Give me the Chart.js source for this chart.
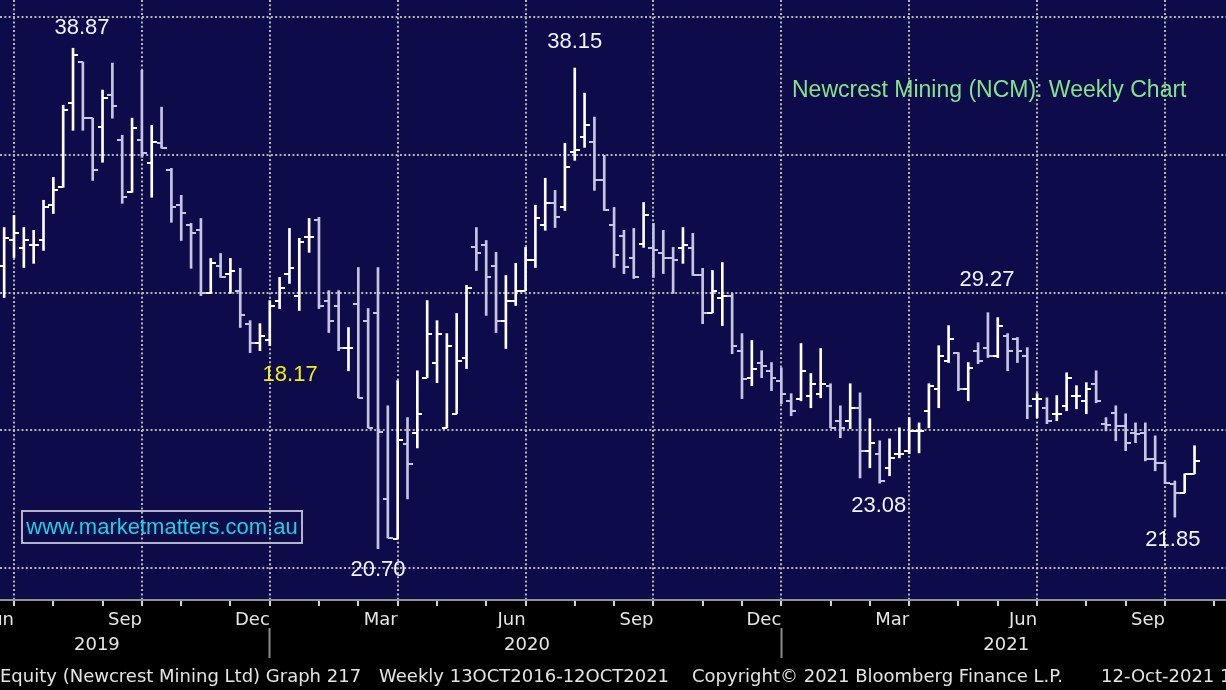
<!DOCTYPE html>
<html>
<head>
<meta charset="utf-8">
<title>Newcrest Mining (NCM) Weekly</title>
<script src="https://cdn.jsdelivr.net/npm/chart.js@4.4.0/dist/chart.umd.min.js"></script>
<style>
    html, body { margin: 0; padding: 0; background: #000; overflow: hidden; }
    #wrap { position: relative; width: 1226px; height: 690px; background: #000; }
    #wrap canvas { position: absolute; left: 0; top: 0; }
    .chartTitle { position: absolute; left: 792px; top: 76px; font: 23px "Liberation Sans", Arial, sans-serif; color: #84e48a; white-space: nowrap; }
    .site { position: absolute; left: 21px; top: 510px; width: 278px; height: 30px; border: 2px solid #b4b4c4;
            font: 22px "Liberation Sans", Arial, sans-serif; color: #1ed0e2; line-height: 30px; text-align: center; white-space: nowrap; }
    .foot { position: absolute; top: 666px; font: 18px "DejaVu Sans", sans-serif; color: #e4e4e4; white-space: nowrap; line-height: 20px; }
</style>
</head>
<body>
<div id="wrap">
    <canvas id="c" width="1226" height="690"></canvas>
    <div class="chartTitle">Newcrest Mining (NCM): Weekly Chart</div>
    <div class="site">www.marketmatters.com.au</div>
    <div class="foot" style="left:0px">Equity (Newcrest Mining Ltd) Graph 217</div>
    <div class="foot" style="left:379px">Weekly 13OCT2016-12OCT2021</div>
    <div class="foot" style="left:692px">Copyright© 2021 Bloomberg Finance L.P.</div>
    <div class="foot" style="left:1101px">12-Oct-2021 12:52:07</div>
</div>
<script>
// weekly bars, first one is the week ending Fri 28 Jun 2019
const firstWeek = '2019-06-28';

const highs = [
    32.36, 32.80, 32.36, 32.26, 33.35, 34.18, 36.80, 38.87, 38.37, 36.33,
    37.35, 38.33, 35.71, 36.33, 38.07, 36.07, 36.73, 34.51, 33.53, 32.51,
    32.69, 31.24, 31.42, 31.24, 30.88, 28.98, 28.87, 29.71, 30.55, 32.33,
    31.97, 32.69, 32.73, 30.07, 30.07, 28.73, 30.91, 29.42, 30.91, 25.89,
    26.80, 25.46, 27.16, 29.71, 28.98, 28.51, 29.24, 30.26, 32.36, 31.89,
    31.46, 30.62, 31.06, 31.64, 33.17, 34.15, 33.71, 35.42, 38.15, 37.24,
    36.37, 34.98, 33.09, 32.26, 32.33, 33.27, 32.51, 32.26, 31.64, 32.36,
    32.15, 30.88, 30.80, 31.09, 29.97, 28.51, 28.26, 27.89, 27.46, 27.27,
    26.33, 28.15, 27.06, 27.97, 26.69, 25.89, 26.69, 26.36, 25.42, 24.62,
    24.69, 25.09, 25.46, 25.27, 26.69, 28.07, 28.80, 27.82, 27.46, 28.18,
    29.27, 29.09, 28.51, 28.37, 28.00, 26.33, 26.18, 26.26, 27.09, 26.62,
    26.73, 27.16, 25.46, 25.89, 25.60, 25.27, 25.27, 24.80, 23.82, 23.16,
    23.42, 24.44
];
const lows = [
    29.82, 31.27, 30.91, 31.06, 31.53, 32.87, 33.82, 35.89, 35.89, 34.07,
    34.73, 36.33, 33.24, 33.64, 34.91, 33.46, 35.24, 32.55, 31.89, 30.88,
    29.89, 29.97, 30.55, 29.97, 28.73, 27.82, 27.89, 28.07, 29.42, 30.33,
    29.35, 31.46, 29.42, 28.55, 27.89, 27.16, 26.18, 25.09, 20.70, 21.09,
    21.06, 22.51, 24.36, 26.91, 26.73, 25.09, 25.60, 27.24, 30.80, 29.17,
    28.55, 27.97, 29.53, 30.07, 30.91, 32.26, 32.36, 32.98, 34.80, 35.27,
    33.71, 32.98, 30.91, 30.69, 30.51, 31.64, 30.55, 30.69, 29.97, 31.06,
    30.62, 28.87, 29.27, 28.80, 27.78, 26.15, 26.62, 26.91, 26.44, 25.97,
    25.53, 26.07, 25.82, 26.18, 25.09, 24.73, 25.06, 23.27, 23.64, 23.08,
    23.35, 24.00, 24.15, 24.18, 25.09, 25.82, 27.46, 26.44, 26.07, 27.42,
    27.64, 27.64, 27.16, 27.46, 25.42, 25.46, 25.24, 25.35, 25.71, 25.78,
    25.60, 26.00, 24.98, 24.62, 24.26, 24.55, 23.89, 23.53, 23.06, 21.85,
    22.73, 23.42
];
const opens = [
    30.98, 31.89, 31.60, 31.71, 31.89, 33.17, 33.82, 36.87, 38.37, 36.33,
    36.00, 37.17, 35.53, 33.64, 35.53, 34.69, 35.42, 34.44, 33.17, 32.44,
    32.26, 29.97, 30.98, 30.69, 30.07, 28.87, 28.18, 28.26, 29.71, 30.69,
    29.89, 32.00, 32.62, 29.71, 29.53, 27.97, 29.60, 28.98, 29.24, 22.51,
    21.06, 24.51, 24.91, 26.91, 27.46, 25.09, 25.60, 27.64, 31.64, 31.71,
    30.98, 28.98, 29.71, 30.07, 31.17, 32.44, 33.24, 33.09, 35.10, 35.64,
    35.46, 34.07, 32.44, 32.07, 31.27, 31.78, 31.60, 31.42, 31.24, 31.60,
    31.60, 30.62, 29.27, 29.82, 29.89, 27.89, 26.91, 27.46, 27.16, 26.80,
    26.07, 26.15, 26.26, 26.33, 26.62, 25.35, 25.35, 25.82, 24.26, 24.15,
    23.64, 24.15, 24.26, 24.98, 25.71, 26.51, 27.53, 27.82, 26.51, 27.89,
    28.00, 27.71, 28.44, 28.33, 27.71, 26.15, 25.82, 25.60, 25.89, 26.26,
    26.07, 26.69, 25.24, 25.64, 25.16, 24.91, 24.91, 23.96, 23.82, 23.06,
    22.73, 23.42
];
const closes = [
    31.97, 32.15, 31.89, 31.71, 33.09, 33.71, 36.62, 38.62, 36.33, 34.44,
    37.06, 36.77, 33.46, 35.97, 35.06, 35.46, 35.24, 33.09, 32.87, 32.15,
    29.97, 31.06, 30.55, 30.80, 29.17, 28.18, 28.44, 29.53, 30.18, 30.88,
    31.82, 32.00, 29.53, 28.98, 27.97, 27.97, 26.18, 25.09, 24.95, 21.09,
    24.66, 23.78, 25.60, 28.51, 28.51, 28.07, 27.53, 30.18, 31.42, 30.55,
    28.98, 29.71, 30.07, 31.17, 32.69, 33.24, 32.73, 34.55, 35.17, 36.07,
    34.07, 32.98, 31.35, 30.91, 30.55, 32.80, 31.53, 31.27, 31.20, 31.71,
    30.62, 29.24, 30.07, 29.89, 28.07, 26.87, 27.24, 27.35, 26.91, 26.33,
    25.71, 27.16, 26.69, 26.69, 25.09, 25.09, 25.82, 24.26, 24.55, 23.16,
    24.00, 24.15, 24.98, 24.98, 26.62, 27.71, 28.33, 26.51, 27.27, 27.53,
    27.71, 28.80, 27.89, 27.89, 25.89, 26.15, 25.35, 25.60, 26.91, 26.26,
    26.51, 26.07, 25.20, 25.16, 24.55, 24.88, 23.96, 23.82, 23.09, 22.73,
    23.42, 23.89
];

// axis labels: month label sits at the end of each quarter
const quarterLabels = ['Jun', 'Sep', 'Dec', 'Mar', 'Jun', 'Sep', 'Dec', 'Mar', 'Jun', 'Sep'];
const yearLabels = ['2019', '2020', '2021'];
const yearLabelDates = ['2019-09-02', '2020-07-04', '2021-06-10'];
const yearBreaks = ['2020-01-03', '2021-01-01'];
const priceGrid = [20, 25, 30, 35, 40];

// price call-outs on the chart
const calloutTexts = ['38.87', '38.15', '18.17', '20.70', '23.08', '29.27', '21.85'];
const calloutWeeks = [7, 58, 25, 38, 89, 100, 119];
const calloutEnds = ['high', 'high', 'low', 'low', 'low', 'high', 'low'];


const NAVY = '#0e0b4b';
const GRID = 'rgba(200,200,178,0.9)';
const DOTS = [2, 2.3];
const AXIS_FONT = { family: 'DejaVu Sans', size: 18 };

// x axis is days since 1 Jul 2019
const DAY0 = Date.UTC(2019, 6, 1);
const dayOf = (s) => (Date.parse(s) - DAY0) / 864e5;
const X_MIN = -5.96;
const X_MAX = 866.4;
const Y_MIN = 18.84;
const Y_MAX = 40.62;

const weekDays = highs.map((_, i) => dayOf(firstWeek) + 7 * i);

// Bloomberg puts the month marks on the first weekly bar (Friday) of each month
const monthTicks = [];
let q = 0;
for (let m = 0; m < 29; m++) {
    const d = new Date(Date.UTC(2019, 6 + m, 1));
    while (d.getUTCDay() !== 5) d.setUTCDate(d.getUTCDate() + 1);
    const isQuarter = d.getUTCMonth() % 3 === 0;
    monthTicks.push({
        value: (d.getTime() - DAY0) / 864e5,
        quarter: isQuarter,
        label: isQuarter ? quarterLabels[q++] : ''
    });
}

const yearTicks = [];
yearLabels.forEach((t, i) => yearTicks.push({ value: dayOf(yearLabelDates[i]), label: t }));
yearBreaks.forEach((s) => yearTicks.push({ value: dayOf(s), label: '' }));
yearTicks.sort((a, b) => a.value - b.value);

const isUp = (i) => closes[i] >= opens[i];

function tickImage(side, color) {
    const c = document.createElement('canvas');
    c.width = 10;
    c.height = 2;
    const g = c.getContext('2d');
    g.fillStyle = color;
    g.fillRect(side === 'left' ? 0 : 5, 0, 5, 2);
    return c;
}
const UP_COLOR = '#ffffff';
const DOWN_COLOR = '#c6c6e2';
const openUp = tickImage('left', UP_COLOR), openDown = tickImage('left', DOWN_COLOR);
const closeUp = tickImage('right', UP_COLOR), closeDown = tickImage('right', DOWN_COLOR);

const hlData = weekDays.map((d, i) => ({ x: d, y: [lows[i], highs[i]] }));
const openData = weekDays.map((d, i) => ({ x: d, y: opens[i] }));
const closeData = weekDays.map((d, i) => ({ x: d, y: closes[i] }));


const backdrop = {
    id: 'backdrop',
    beforeDraw(chart) {
        const { ctx, chartArea: a } = chart;
        ctx.save();
        ctx.fillStyle = NAVY;
        ctx.fillRect(a.left, a.top, a.right - a.left, a.bottom - a.top);
        ctx.restore();
    }
};

// pixel offsets + colours of the call-outs
const calloutStyle = [
    { dx: 9, dy: -20, color: '#f0f4ff' },
    { dx: 0, dy: -26, color: '#f0f4ff' },
    { dx: 40, dy: 22, color: '#f2ee10' },
    { dx: 0, dy: 21, color: '#f0f4ff' },
    { dx: -1, dy: 23, color: '#f0f4ff' },
    { dx: -1, dy: -33, color: '#f0f4ff' },
    { dx: -2, dy: 23, color: '#f0f4ff' }
];

const callouts = {
    id: 'callouts',
    afterDatasetsDraw(chart) {
        const { ctx } = chart;
        const xs = chart.scales.x, ys = chart.scales.y;
        ctx.save();
        ctx.font = '22px "Liberation Sans", Arial, sans-serif';
        ctx.textAlign = 'center';
        ctx.textBaseline = 'middle';
        calloutTexts.forEach((t, i) => {
            const k = calloutWeeks[i];
            const v = calloutEnds[i] === 'high' ? highs[k] : lows[k];
            const st = calloutStyle[i];
            ctx.fillStyle = st.color;
            ctx.fillText(t, xs.getPixelForValue(weekDays[k]) + st.dx, ys.getPixelForValue(v) + st.dy);
        });
        ctx.restore();
    }
};


new Chart(document.getElementById('c'), {
    data: {
        datasets: [
            {
                type: 'bar',
                data: hlData,
                backgroundColor: (ctx) => isUp(ctx.dataIndex) ? UP_COLOR : DOWN_COLOR,
                borderWidth: 0,
                barThickness: 2
            },
            {
                type: 'scatter',
                data: openData,
                pointStyle: (ctx) => isUp(ctx.dataIndex) ? openUp : openDown,
                pointRadius: 3
            },
            {
                type: 'scatter',
                data: closeData,
                pointStyle: (ctx) => isUp(ctx.dataIndex) ? closeUp : closeDown,
                pointRadius: 3
            }
        ]
    },
    options: {
        responsive: false,
        animation: false,
        events: [],
        layout: { padding: { left: 0, right: 0, top: 0, bottom: 30 }, autoPadding: false },
        plugins: {
            legend: { display: false },
            tooltip: { enabled: false }
        },
        scales: {
            x: {
                type: 'linear',
                position: 'bottom',
                weight: 1,
                offset: false,
                min: X_MIN,
                max: X_MAX,
                afterBuildTicks: (s) => { s.ticks = monthTicks.map((t) => ({ value: t.value })); },
                afterFit: (s) => { s.height = 28; s.paddingLeft = 0; s.paddingRight = 0; },
                ticks: {
                    autoSkip: false,
                    maxRotation: 0,
                    minRotation: 0,
                    align: 'end',
                    padding: 4,
                    color: '#e6e6e6',
                    font: AXIS_FONT,
                    callback: (v, i) => monthTicks[i] ? monthTicks[i].label : ''
                },
                grid: {
                    offset: false,
                    color: (ctx) => (monthTicks[ctx.index] && monthTicks[ctx.index].quarter) ? GRID : 'transparent',
                    lineWidth: 2,
                    drawTicks: true,
                    tickLength: 6,
                    tickColor: '#d4d4d8',
                    tickWidth: 2,
                    tickBorderDash: []
                },
                border: { display: true, color: '#9090a0', width: 2, dash: DOTS }
            },
            year: {
                type: 'linear',
                position: 'bottom',
                weight: 2,
                offset: false,
                min: X_MIN,
                max: X_MAX,
                afterBuildTicks: (s) => { s.ticks = yearTicks.map((t) => ({ value: t.value })); },
                afterFit: (s) => { s.height = 32; s.paddingLeft = 0; s.paddingRight = 0; },
                ticks: {
                    autoSkip: false,
                    maxRotation: 0,
                    minRotation: 0,
                    padding: -23,
                    color: '#e6e6e6',
                    font: AXIS_FONT,
                    callback: (v, i) => yearTicks[i] ? yearTicks[i].label : ''
                },
                grid: {
                    offset: false,
                    drawOnChartArea: false,
                    drawTicks: true,
                    tickLength: 30,
                    tickWidth: 2,
                    tickBorderDash: [],
                    tickColor: (ctx) => (yearTicks[ctx.index] && yearTicks[ctx.index].label === '') ? '#8a8a8a' : 'transparent'
                },
                border: { display: false }
            },
            y: {
                type: 'linear',
                position: 'left',
                min: Y_MIN,
                max: Y_MAX,
                afterBuildTicks: (s) => { s.ticks = priceGrid.map((v) => ({ value: v })); },
                afterFit: (s) => { s.width = 0; },
                ticks: { display: false },
                grid: { color: GRID, lineWidth: 2, drawTicks: false },
                border: { display: false, dash: DOTS }
            }
        }
    },
    plugins: [backdrop, callouts]
});
</script>
</body>
</html>
